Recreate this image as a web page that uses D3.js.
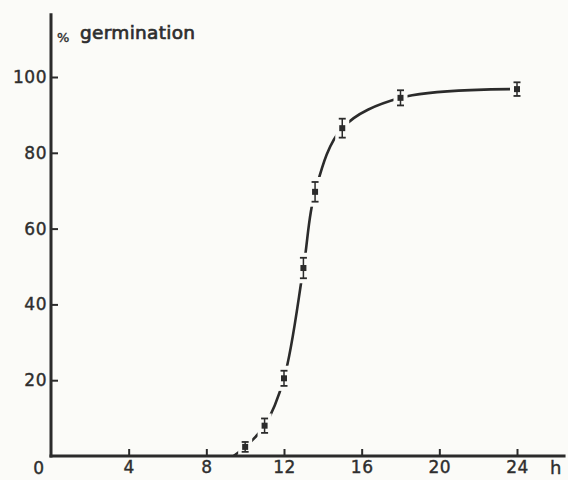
<!DOCTYPE html>
<html>
<head>
<meta charset="utf-8">
<script src="https://cdn.jsdelivr.net/npm/d3@7"></script>
<style>
  html, body { margin: 0; padding: 0; background: #fbfbf8; }
  svg { display: block; }
  .lbl, .tick text { font-family: "DejaVu Sans", sans-serif; font-size: 17px; fill: #2e2e2e; stroke: #2e2e2e; stroke-width: 0.4px; letter-spacing: 0.5px; }
</style>
</head>
<body>
<div id="chart"></div>
<script>
// germination time course
const HOURS = [10, 11, 12, 13, 13.6, 15, 18, 24];
const GERMINATION = [2.4, 8, 20.5, 49.6, 69.7, 86.5, 94.5, 96.8];
const ERRORS = [1.3, 1.9, 2, 2.7, 2.6, 2.5, 2, 1.8];
// where the fitted curve leaves the time axis
const CURVE_ONSET = [9.4, 0];
const X_TICKS = [4, 8, 12, 16, 20, 24];
const Y_TICKS = [20, 40, 60, 80, 100];

const WIDTH = 568;
const HEIGHT = 480;
const INK = "#2b2b2b";
const PAPER = "#fbfbf8";

var svg = d3.select('#chart').append('svg')
  .attr('width', WIDTH)
  .attr('height', HEIGHT);

var x = d3.scaleLinear().domain([0, 24]).range([51, 517]);
var y = d3.scaleLinear().domain([0, 100]).range([456, 77]);

// fitted curve
var points = HOURS.map(function(h, i) { return [h, GERMINATION[i]]; });
var line = d3.line()
  .x(function(d) { return x(d[0]); })
  .y(function(d) { return y(d[1]); })
  .curve(d3.curveCatmullRom.alpha(0.5));

svg.append('path')
  .datum([CURVE_ONSET].concat(points))
  .attr('d', line)
  .attr('fill', 'none')
  .attr('stroke', INK)
  .attr('stroke-width', 2.6);

// a paper-coloured halo round each marker makes the gaps in the curve
svg.selectAll('rect.halo')
  .data(points)
  .enter()
  .append('rect')
  .attr('class', 'halo')
  .attr('x', function(d) { return x(d[0]) - 7; })
  .attr('y', function(d, i) { return y(d[1] + ERRORS[i]) - 5; })
  .attr('width', 14)
  .attr('height', function(d, i) { return y(d[1] - ERRORS[i]) - y(d[1] + ERRORS[i]) + 10; })
  .attr('fill', PAPER);

// axes lines (drawn by hand so they can run past the last tick)
svg.append('line')
  .attr('x1', x(0)).attr('x2', x(0))
  .attr('y1', y(0) + 1.5).attr('y2', y(116.8))
  .attr('stroke', INK).attr('stroke-width', 3);
svg.append('line')
  .attr('x1', x(0) - 1.5).attr('x2', x(26.5))
  .attr('y1', y(0)).attr('y2', y(0))
  .attr('stroke', INK).attr('stroke-width', 3);

var yAxis = svg.append('g')
  .attr('transform', 'translate(' + x(0) + ',0)')
  .call(d3.axisLeft(y).tickValues(Y_TICKS).tickSize(-7).tickPadding(4));
var xAxis = svg.append('g')
  .attr('transform', 'translate(0,' + y(0) + ')')
  .call(d3.axisBottom(x).tickValues(X_TICKS).tickSize(-7).tickPadding(5));

[yAxis, xAxis].forEach(function(g) {
  g.select('.domain').remove();
  g.selectAll('.tick line').attr('stroke', INK).attr('stroke-width', 2);
});

// origin and unit labels
svg.append('text')
  .attr('class', 'lbl')
  .attr('x', x(0) - 12).attr('y', 474)
  .attr('text-anchor', 'middle')
  .text('0');
svg.append('text')
  .attr('class', 'lbl')
  .attr('x', 556).attr('y', 474)
  .attr('text-anchor', 'middle')
  .style('font-size', '18px')
  .text('h');

// y title
svg.append('text')
  .attr('class', 'lbl')
  .attr('x', 57).attr('y', 42)
  .style('font-size', '13px')
  .text('%');
svg.append('text')
  .attr('class', 'lbl')
  .attr('x', 80).attr('y', 39)
  .style('font-size', '18.5px')
  .style('stroke-width', '0.7px')
  .style('letter-spacing', '0.3px')
  .text('germination');

// markers with error bars
var marks = svg.selectAll('g.mark')
  .data(points)
  .enter()
  .append('g')
  .attr('class', 'mark');

marks.append('line')
  .attr('x1', function(d) { return x(d[0]); })
  .attr('x2', function(d) { return x(d[0]); })
  .attr('y1', function(d, i) { return y(d[1] + ERRORS[i]); })
  .attr('y2', function(d, i) { return y(d[1] - ERRORS[i]); })
  .attr('stroke', INK).attr('stroke-width', 1.5);

[1, -1].forEach(function(sign) {
  marks.append('line')
    .attr('x1', function(d) { return x(d[0]) - 3.5; })
    .attr('x2', function(d) { return x(d[0]) + 3.5; })
    .attr('y1', function(d, i) { return y(d[1] + sign * ERRORS[i]); })
    .attr('y2', function(d, i) { return y(d[1] + sign * ERRORS[i]); })
    .attr('stroke', INK).attr('stroke-width', 1.8);
});

marks.append('rect')
  .attr('x', function(d) { return x(d[0]) - 3; })
  .attr('y', function(d) { return y(d[1]) - 3; })
  .attr('width', 6)
  .attr('height', 6)
  .attr('fill', INK);
</script>
</body>
</html>
